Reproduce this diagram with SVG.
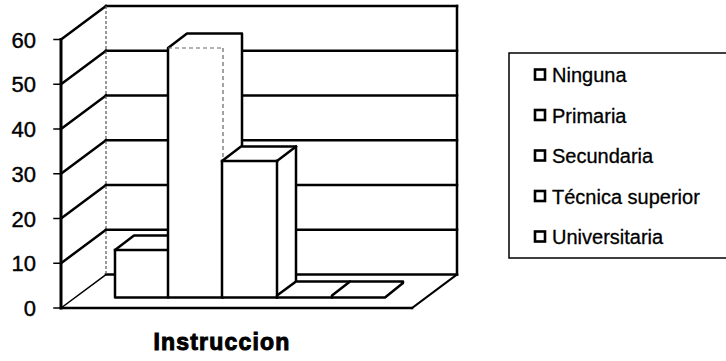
<svg xmlns="http://www.w3.org/2000/svg" width="726" height="361" viewBox="0 0 726 361">
<style>
.ln{stroke:#000;stroke-width:2.5;fill:none;stroke-linecap:square}
.thin{stroke:#555;stroke-width:1.2;fill:none;stroke-dasharray:3 2}
.bar{fill:#fff;stroke:#000;stroke-width:2.5;stroke-linejoin:round}
.faint{stroke:#666;stroke-width:1.2;fill:none;stroke-dasharray:4 3}
.ax{font-family:"Liberation Sans",Arial,sans-serif;font-size:22px;fill:#000;stroke:#000;stroke-width:0.4;text-anchor:end}
.lg{font-family:"Liberation Sans",Arial,sans-serif;font-size:20px;fill:#000;stroke:#000;stroke-width:0.3}
.mk{fill:#fff;stroke:#000;stroke-width:2.6}
.tt{font-family:"Liberation Sans",Arial,sans-serif;font-size:23px;font-weight:bold;fill:#000;stroke:#000;stroke-width:1;text-anchor:middle;letter-spacing:1.2px}
</style>
<rect width="726" height="361" fill="#fff"/>
<g id="plot-area">
  <rect x="106" y="6" width="351" height="268.5" fill="#fff"/>
  <polygon points="61,39.5 106,6 106,274.5 61,308" fill="#fff"/>
  <polygon points="61,308 412,308 457,274.5 106,274.5" fill="#fff"/>
  <g class="ln">
    <line x1="106" y1="6" x2="457" y2="6"/>
    <line x1="457" y1="6" x2="457" y2="274.5"/>
    <line x1="106" y1="50.75" x2="457" y2="50.75"/>
    <line x1="106" y1="95.5" x2="457" y2="95.5"/>
    <line x1="106" y1="140.25" x2="457" y2="140.25"/>
    <line x1="106" y1="185" x2="457" y2="185"/>
    <line x1="106" y1="229.75" x2="457" y2="229.75"/>
    <line x1="106" y1="274.5" x2="457" y2="274.5"/>
    <line x1="61" y1="39.5" x2="106" y2="6"/>
    <line x1="61" y1="84.25" x2="106" y2="50.75"/>
    <line x1="61" y1="129" x2="106" y2="95.5"/>
    <line x1="61" y1="173.75" x2="106" y2="140.25"/>
    <line x1="61" y1="218.5" x2="106" y2="185"/>
    <line x1="61" y1="263.25" x2="106" y2="229.75"/>
    <line x1="61" y1="308" x2="106" y2="274.5" stroke-width="1.5"/>
    <line x1="61" y1="39.5" x2="61" y2="308" stroke-width="3"/>
    <line x1="61" y1="308" x2="412" y2="308"/>
    <line x1="412" y1="308" x2="457" y2="274.5" stroke-width="2"/>
    <line x1="54" y1="39.5" x2="61" y2="39.5" stroke-width="1.5"/>
    <line x1="54" y1="84.25" x2="61" y2="84.25" stroke-width="1.5"/>
    <line x1="54" y1="129" x2="61" y2="129" stroke-width="1.5"/>
    <line x1="54" y1="173.75" x2="61" y2="173.75" stroke-width="1.5"/>
    <line x1="54" y1="218.5" x2="61" y2="218.5" stroke-width="1.5"/>
    <line x1="54" y1="263.25" x2="61" y2="263.25" stroke-width="1.5"/>
    <line x1="54" y1="308" x2="61" y2="308" stroke-width="1.5"/>
  </g>
  <line class="thin" x1="106" y1="6" x2="106" y2="274.5"/>
</g>
<g id="axis-labels">
  <text class="ax" x="36" y="47.5">60</text>
  <text class="ax" x="36" y="92.25">50</text>
  <text class="ax" x="36" y="137">40</text>
  <text class="ax" x="36" y="181.75">30</text>
  <text class="ax" x="36" y="226.5">20</text>
  <text class="ax" x="36" y="271.25">10</text>
  <text class="ax" x="36" y="316">0</text>
</g>
<g id="bar-ninguna">
  <polygon class="bar" points="115,250 134,235.5 187,235.5 187,283 168,297.5 115,297.5"/>
  <line class="ln" x1="115" y1="250" x2="168" y2="250"/>
</g>
<g id="bar-primaria">
  <polygon class="bar" points="168,48 187,33.5 242,33.5 242,283 223,297.5 168,297.5"/>
  <line class="faint" x1="168" y1="48" x2="223" y2="48"/>
  <line class="faint" x1="223" y1="48" x2="223" y2="297.5"/>
</g>
<g id="bar-secundaria">
  <polygon class="bar" points="222,161 241,146.5 296,146.5 296,283 277,297.5 222,297.5"/>
  <line class="ln" x1="222" y1="161" x2="277" y2="161"/>
  <line class="ln" x1="277" y1="161" x2="277" y2="297.5"/>
  <line class="ln" x1="277" y1="161" x2="296" y2="146.5"/>
</g>
<g id="bar-tecnica">
  <polygon class="bar" points="277,295.5 296,281.5 350,281.5 350,283 332,297.5 277,297.5"/>
</g>
<g id="bar-universitaria">
  <polygon class="bar" points="332,295.5 350,281.5 403,281.5 403,283 385,297.5 332,297.5" stroke-width="1.6"/>
</g>
<g id="legend">
  <rect x="509" y="53" width="222" height="205" fill="#fff" stroke="#000" stroke-width="1.5"/>
  <rect class="mk" x="535" y="69.5" width="10" height="10"/>
  <text class="lg" x="552" y="82">Ninguna</text>
  <rect class="mk" x="535" y="110" width="10" height="10"/>
  <text class="lg" x="552" y="122.5">Primaria</text>
  <rect class="mk" x="535" y="150.5" width="10" height="10"/>
  <text class="lg" x="552" y="163">Secundaria</text>
  <rect class="mk" x="535" y="191" width="10" height="10"/>
  <text class="lg" x="552" y="203.5">Técnica superior</text>
  <rect class="mk" x="535" y="231.5" width="10" height="10"/>
  <text class="lg" x="552" y="244">Universitaria</text>
</g>
<g id="title">
  <text class="tt" x="222" y="350">Instruccion</text>
</g>
</svg>
